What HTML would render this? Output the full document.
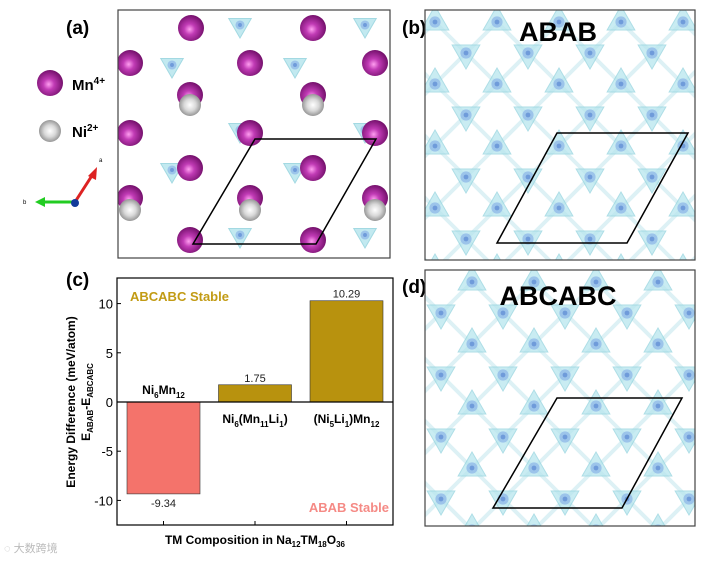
<!DOCTYPE html>
<html><head><meta charset="utf-8">
<style>
html,body{margin:0;padding:0;background:#fff;}
body{width:708px;height:559px;overflow:hidden;font-family:"Liberation Sans","Noto Sans CJK SC",sans-serif;}
svg text{font-family:"Liberation Sans","Noto Sans CJK SC",sans-serif;}
</style></head><body>
<svg id="fig" width="708" height="559" viewBox="0 0 708 559" xmlns="http://www.w3.org/2000/svg">
<defs>
<radialGradient id="mnG" cx="0.45" cy="0.55" r="0.6"><stop offset="0" stop-color="#ff9ef0"/><stop offset="0.35" stop-color="#c13bb5"/><stop offset="1" stop-color="#6a0a62"/></radialGradient>
<radialGradient id="niG" cx="0.5" cy="0.5" r="0.6"><stop offset="0" stop-color="#ffffff"/><stop offset="0.45" stop-color="#d8d8d8"/><stop offset="1" stop-color="#7a7a7a"/></radialGradient>
<clipPath id="clipA"><rect x="118" y="10" width="272" height="248"/></clipPath>
<clipPath id="clipB"><rect x="425" y="10" width="270" height="250"/></clipPath>
<clipPath id="clipD"><rect x="425" y="270" width="270" height="256"/></clipPath>
</defs>
<g id="panelA">
<text x="66" y="34" font-size="19" font-weight="bold">(a)</text>
<g id="aContent" clip-path="url(#clipA)"></g>
<rect x="118" y="10" width="272" height="248" fill="none" stroke="#444" stroke-width="1.2"/>
<polygon points="255,139 376,139 316,244 193,244" fill="none" stroke="#000" stroke-width="1.5"/>
<circle cx="50" cy="83" r="13" fill="url(#mnG)"/>
<text x="72" y="90" font-size="15" font-weight="bold">Mn<tspan font-size="10" dy="-6">4+</tspan></text>
<circle cx="50" cy="131" r="11" fill="url(#niG)"/>
<text x="72" y="137" font-size="15" font-weight="bold">Ni<tspan font-size="10" dy="-6">2+</tspan></text>
<g>
<line x1="75" y1="202" x2="93" y2="174" stroke="#d22" stroke-width="3"/><polygon points="97,167 88,176 96,180" fill="#d22"/>
<line x1="75" y1="202" x2="43" y2="202" stroke="#2c2" stroke-width="3"/><polygon points="35,202 45,197 45,207" fill="#2c2"/>
<circle cx="75" cy="203" r="4" fill="#123a9a"/>
<text x="99" y="162" font-size="6">a</text><text x="23" y="204" font-size="6">b</text>
</g>
</g>
<g id="panelB">
<text x="402" y="34" font-size="19" font-weight="bold">(b)</text>
<g id="bContent" clip-path="url(#clipB)"></g>
<rect x="425" y="10" width="270" height="250" fill="none" stroke="#444" stroke-width="1.2"/>
<text x="558" y="41" font-size="27" font-weight="bold" text-anchor="middle">ABAB</text>
<polygon points="557,133 688,133 627,243 497,243" fill="none" stroke="#000" stroke-width="1.5"/>
</g>
<g id="panelD">
<text x="402" y="293" font-size="19" font-weight="bold">(d)</text>
<g id="dContent" clip-path="url(#clipD)"></g>
<rect x="425" y="270" width="270" height="256" fill="none" stroke="#444" stroke-width="1.2"/>
<text x="558" y="305" font-size="27" font-weight="bold" text-anchor="middle">ABCABC</text>
<polygon points="557,398 682,398 622,508 493,508" fill="none" stroke="#000" stroke-width="1.5"/>
</g>
<g id="panelC">
<text x="66" y="286" font-size="19" font-weight="bold">(c)</text>
<g id="chart"></g>
</g>
<text x="4" y="552" font-size="11" fill="#bbb">◌ 大数跨境</text>
</svg>
<script>
const NS='http://www.w3.org/2000/svg';
function mk(tag,attrs,parent){const e=document.createElementNS(NS,tag);for(const k in attrs)e.setAttribute(k,attrs[k]);parent.appendChild(e);return e;}
// ---- chart data ----
const categories=['Ni6Mn12','Ni6(Mn11Li1)','(Ni5Li1)Mn12'];
const energyValues=[-9.34,1.75,10.29];
const valueLabels=['-9.34','1.75','10.29'];
const yTicks=[-10,-5,0,5,10];
const yTickLabels=['-10','-5','0','5','10'];
const barColors=['#f4736b','#b8920e','#b8920e'];
const catLabelsHTML=[['Ni','6','Mn','12'],['Ni','6','(Mn','11','Li','1',')'],['(Ni','5','Li','1',')Mn','12']];
const X0=117,X1=393,Y0=278,Y1=525,YMIN=-12.5,YMAX=12.6;
const y=v=>Y0+(YMAX-v)/(YMAX-YMIN)*(Y1-Y0);
const band=(X1-X0)/categories.length;
const xc=i=>X0+band*(i+0.5)-(i-1)*0.5;
const chart=document.getElementById('chart');
const bw=73;
energyValues.forEach((v,i)=>{
  const r=mk('rect',{x:xc(i)-bw/2,y:Math.min(y(v),y(0)),width:bw,height:Math.abs(y(v)-y(0)),fill:barColors[i],stroke:'#333','stroke-width':0.6},chart);
  
  
  const t=mk('text',{x:xc(i),y:v>=0?y(v)-3:y(v)+13,'font-size':11,'text-anchor':'middle',fill:'#222'},chart);
  t.textContent=valueLabels[i];
  
  
  const parts=catLabelsHTML[i];
  const ly=v<0?y(0)-8:y(0)+21;
  const ct=mk('text',{x:xc(i),y:ly,'font-size':12,'font-weight':'bold','text-anchor':'middle'},chart);
  
  
  parts.forEach((p,j)=>{const s=mk('tspan',{},ct);if(/^\d+$/.test(p)){s.setAttribute('font-size','8');s.setAttribute('dy','4');}else if(j>0&&/^\d+$/.test(parts[j-1])){s.setAttribute('dy','-4');}s.textContent=p;});
});
mk('line',{x1:X0,x2:X1,y1:y(0),y2:y(0),stroke:'#000','stroke-width':1.2},chart);
const frame=mk('rect',{x:X0,y:Y0,width:X1-X0,height:Y1-Y0,fill:'none',stroke:'#000','stroke-width':1.2},chart);


yTicks.forEach((tv,i)=>{
  mk('line',{x1:X0,x2:X0+4,y1:y(tv),y2:y(tv),stroke:'#000'},chart);
  const t=mk('text',{x:X0-4,y:y(tv)+5,'font-size':13,'text-anchor':'end'},chart);
  t.textContent=yTickLabels[i];
  
  
});
categories.forEach((c,i)=>mk('line',{x1:xc(i),x2:xc(i),y1:Y1,y2:Y1-4,stroke:'#000'},chart));
const l1=mk('text',{x:130,y:301,'font-size':13,'font-weight':'bold',fill:'#c29b14'},chart);l1.textContent='ABCABC Stable';


const l2=mk('text',{x:389,y:512,'font-size':13,'font-weight':'bold',fill:'#f58a85','text-anchor':'end'},chart);l2.textContent='ABAB Stable';


const xt=mk('text',{x:255,y:544,'font-size':12,'font-weight':'bold','text-anchor':'middle'},chart);
xt.innerHTML='TM Composition in Na<tspan font-size="8" dy="3">12</tspan><tspan dy="-3">TM</tspan><tspan font-size="8" dy="3">18</tspan><tspan dy="-3">O</tspan><tspan font-size="8" dy="3">36</tspan>';


const yt=mk('text',{transform:'translate(83,402) rotate(-90)','font-size':12,'font-weight':'bold','text-anchor':'middle'},chart);
yt.innerHTML='<tspan x="0" dy="-8">Energy Difference (meV/atom)</tspan><tspan x="0" dy="15">E</tspan><tspan font-size="8" dy="3">ABAB</tspan><tspan dy="-3">-E</tspan><tspan font-size="8" dy="3">ABCABC</tspan>';


// ---- structure decorations ----
function tri(g,cx,cy,s,rot,op){
  const pts=[0,1,2].map(k=>{const a=rot+k*2*Math.PI/3;return (cx+s*Math.cos(a))+','+(cy+s*Math.sin(a));}).join(' ');
  mk('polygon',{points:pts,fill:'#b8e6ee',stroke:'#93d3de','stroke-width':1,opacity:op||0.85},g);
  mk('circle',{cx:cx,cy:cy,r:s*0.35,fill:'#9cc4ea'},g);
  mk('circle',{cx:cx,cy:cy,r:s*0.15,fill:'#6f9bda'},g);
}
function net(g,x0,y0,w,h,dx){
  for(let r=0;r*31<h+40;r++)for(let c=-1;c*62<w+60;c++){
    const cx=x0+c*62+(r%2)*31+dx, cy=y0+r*31;
    mk('line',{x1:cx,y1:cy,x2:cx+31,y2:cy+31,stroke:'#b4e2ea','stroke-width':4,opacity:0.45},g);
    mk('line',{x1:cx,y1:cy,x2:cx-31,y2:cy+31,stroke:'#b4e2ea','stroke-width':4,opacity:0.45},g);
  }
  for(let r=0;r*31<h+40;r++)for(let c=-1;c*62<w+60;c++){
    const cx=x0+c*62+(r%2)*31+dx, cy=y0+r*31;
    tri(g,cx,cy,16,(r%2?Math.PI/2:-Math.PI/2),0.75);
  }
}
net(document.getElementById('bContent'),425,22,270,250,10);
net(document.getElementById('dContent'),425,282,270,256,-15);
const ga=document.getElementById('aContent');
[[240,25],[365,25],[172,65],[295,65],[240,130],[365,130],[172,170],[295,170],[240,235],[365,235]].forEach(p=>tri(ga,p[0],p[1],13,Math.PI/2));
const mnPos=[[191,28],[313,28],[130,63],[250,63],[375,63],[190,95],[313,95],[130,133],[250,133],[375,133],[190,168],[313,168],[130,198],[250,198],[375,198],[190,240],[313,240]];
mnPos.forEach(p=>mk('circle',{cx:p[0],cy:p[1],r:13,fill:'url(#mnG)'},ga));
[[190,105],[313,105],[130,210],[250,210],[375,210]].forEach(p=>mk('circle',{cx:p[0],cy:p[1],r:11,fill:'url(#niG)'},ga));
</script>
</body></html>
